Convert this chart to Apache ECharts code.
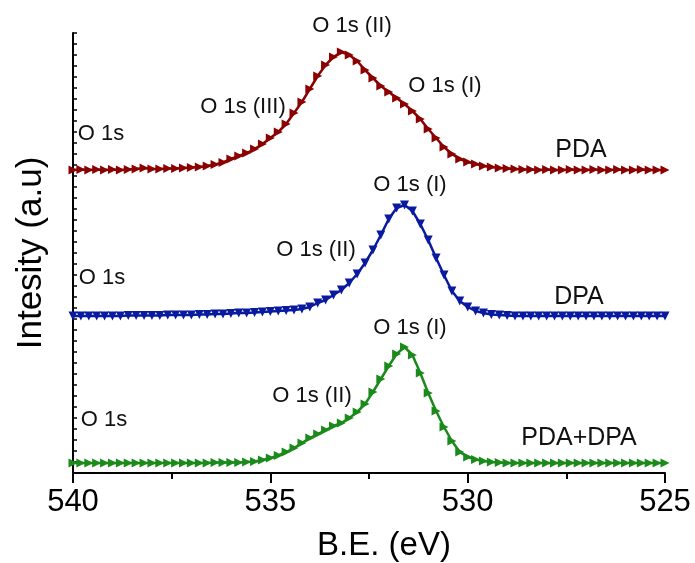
<!DOCTYPE html>
<html>
<head>
<meta charset="utf-8">
<script src="https://cdn.jsdelivr.net/npm/echarts@6/dist/echarts.min.js"></script>
<style>
html,body{margin:0;padding:0;background:#fff;}
#xps{width:695px;height:563px;}
</style>
</head>
<body>
<div id="xps"></div>
<script>
// binding energy, eV (540 -> 525, step 0.2)
var be = [540.0,539.8,539.6,539.4,539.2,539.0,538.8,538.6,538.4,538.2,
  538.0,537.8,537.6,537.4,537.2,537.0,536.8,536.6,536.4,536.2,
  536.0,535.8,535.6,535.4,535.2,535.0,534.8,534.6,534.4,534.2,
  534.0,533.8,533.6,533.4,533.2,533.0,532.8,532.6,532.4,532.2,
  532.0,531.8,531.6,531.4,531.2,531.0,530.8,530.6,530.4,530.2,
  530.0,529.8,529.6,529.4,529.2,529.0,528.8,528.6,528.4,528.2,
  528.0,527.8,527.6,527.4,527.2,527.0,526.8,526.6,526.4,526.2,
  526.0,525.8,525.6,525.4,525.2,525.0];

// O 1s intensities above each baseline
var pda = [0,0.5,0,0.5,0,0.5,0,0.5,1,2,
  1,1,1.5,1.5,2,2.5,3,4,5.5,7.5,
  11,14,17,21,26,32,38,46,57,68,
  81,94,105,113,118,115,109,100,92,84,
  78,72,66,59,51,41,32,23,16,11,
  8,6,4,3,2,1.5,1,0.5,0.5,0,
  0.5,0,0,0.5,0,0,0.5,0,0,0.5,
  0,0,0.5,0,0,0];
var dpa = [0,0,0,0,0,0,0,0.5,0.5,0.5,
  0.5,0.5,1,1,1,1,1.5,1.5,2,2,
  2.5,3,3,3.5,4,4.5,5,5.5,6,7,
  9,13,16,21,26,33,42,53,66,81,
  97,108,111,105,92,76,58,41,25,15,
  9,5,3,1.5,1,0.5,0,0,0,0,
  0,0,0,0,0,0,0,0,0,0,
  0,0,0,0,0,0];
var mix = [0,0,0,0,0,0,0,0,0,0,
  0,0,0,0,0,0,0,0,0.5,0.5,
  0.5,0.5,1,1.5,3,5,7.5,11,15,20,
  25,29,33,37,40,45,51,59,71,84,
  97,109,116,108,90,70,52,36,22,11,
  6,3.5,2,1,0.5,0,0,0,0,0,
  0,0,0,0,0,0,0,0,0,0,
  0,0,0,0,0,0];

var names = ['PDA','DPA','PDA+DPA'];
var offsets = [303,157,10];   // vertical stacking of the spectra
var xTicks = [525,530,535,540];

var myChart = echarts.init(document.getElementById('xps'));

function pts(arr,off){
	var out = [];
	for(var i=0;i<be.length;i++){
		out.push([be[i],arr[i]+off]);
	}
	return out;
}

var fam = '"Liberation Sans", Arial, sans-serif';

// annotation text, centred on (x,y)
function txt(s,x,y,size){
	return {type:'text',x:x,y:y,style:{text:s,fill:'#111',
		font:size+'px '+fam,align:'center',verticalAlign:'middle'}};
}

option = {
	backgroundColor:'#fff',
	animation:false,
	grid:{left:73,right:30,top:33,bottom:90,outerBoundsMode:'none'},
	xAxis:{
		type:'value',
		min:525,max:540,interval:5,
		inverse:true,
		name:'B.E. (eV)',
		nameLocation:'middle',
		nameGap:56,
		nameTextStyle:{fontSize:33,color:'#000',fontFamily:fam,padding:[0,0,0,30]},
		axisLine:{lineStyle:{color:'#000',width:2}},
		axisTick:{inside:false,length:10,lineStyle:{color:'#000',width:2}},
		minorTick:{show:true,splitNumber:2,length:6,lineStyle:{color:'#000',width:2}},
		axisLabel:{fontSize:31,color:'#000',fontFamily:fam,margin:14,
			formatter:function(v){return xTicks.indexOf(v)>=0?String(v):'';}},
		splitLine:{show:false}
	},
	yAxis:{
		type:'value',
		min:0,max:440,interval:11,
		name:'Intesity (a.u)',
		nameLocation:'middle',
		nameGap:24,
		nameTextStyle:{fontSize:35,color:'#000',fontFamily:fam},
		axisLine:{show:true,lineStyle:{color:'#000',width:2}},
		axisTick:{show:true,inside:true,length:4,lineStyle:{color:'#000',width:1.5}},
		axisLabel:{show:false},
		splitLine:{show:false}
	},
	series:[
		{name:names[0],type:'line',data:pts(pda,offsets[0]),
			symbol:'triangle',symbolSize:9,symbolRotate:-90,
			lineStyle:{color:'#8b0000',width:2.5},itemStyle:{color:'#8b0000'}},
		{name:names[1],type:'line',data:pts(dpa,offsets[1]),
			symbol:'triangle',symbolSize:9,symbolRotate:180,
			lineStyle:{color:'#0a1aa0',width:2.5},itemStyle:{color:'#0a1aa0'}},
		{name:names[2],type:'line',data:pts(mix,offsets[2]),
			symbol:'triangle',symbolSize:9,symbolRotate:-90,
			lineStyle:{color:'#1a8a1a',width:2.5},itemStyle:{color:'#1a8a1a'}}
	],
	graphic:[
		txt('O 1s (II)',352,26,22),
		txt('O 1s (I)',445,86,22),
		txt('O 1s (III)',243,107,22),
		txt('O 1s',101,134,22),
		txt('PDA',581,150,25),
		txt('O 1s (I)',410,185,22),
		txt('O 1s (II)',316,250,22),
		txt('O 1s',102,278,22),
		txt('DPA',579,297,25),
		txt('O 1s (I)',410,328,22),
		txt('O 1s (II)',312,396,22),
		txt('O 1s',104,420,22),
		txt('PDA+DPA',579,438,25)
	]
};

myChart.setOption(option);
</script>
</body>
</html>
